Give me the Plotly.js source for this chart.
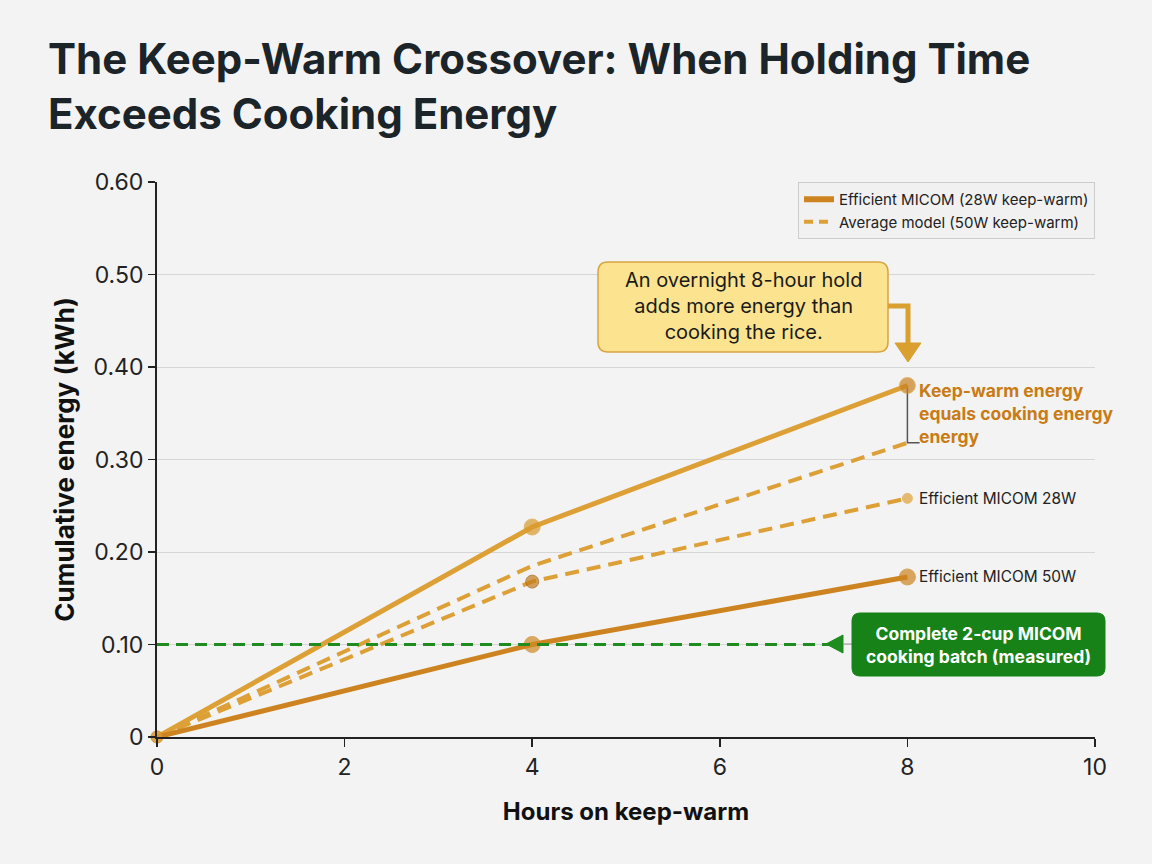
<!DOCTYPE html>
<html>
<head>
<meta charset="utf-8">
<script src="https://cdn.plot.ly/plotly-3.0.1.min.js"></script>
<style>
  html, body { margin: 0; padding: 0; background: #f3f3f3; }
  #chart { width: 1152px; height: 864px; }
</style>
</head>
<body>
<div id="chart"></div>
<script>
// ---- data ----
const hours = [0, 4, 8];
const holdTotalEfficient = [0, 0.227, 0.38];     // solid light orange
const holdAverageUpper = [0, 0.185, 0.318];      // dashed upper
const holdAverageLower = [0, 0.168, 0.258];      // dashed lower
const holdEfficientLow = [0, 0.10, 0.173];       // solid dark orange
const cookingBatchKWh = 0.10;
const cookingLineEnd = 7.28;
const xTicks = [0, 2, 4, 6, 8, 10];
const yTicks = [0, 0.1, 0.2, 0.3, 0.4, 0.5, 0.6];
const yTickText = ["0", "0.10", "0.20", "0.30", "0.40", "0.50", "0.60"];
const legendNames = ["Efficient MICOM (28W keep-warm)", "Average model (50W keep-warm)"];
const endLabels = ["Efficient MICOM 28W", "Efficient MICOM 50W"];

// ---- layout helpers ----
const L = 157, R = 1095, T = 182, B = 737;
const px = x => (x - L) / (R - L);
const py = y => (B - y) / (B - T);
function roundRect(x0, y0, x1, y1, r) {
  const rx = r / (R - L), ry = r / (B - T);
  const a = px(x0), b = px(x1), top = py(y0), bot = py(y1);
  return `M ${a + rx},${top} L ${b - rx},${top} Q ${b},${top} ${b},${top - ry} ` +
         `L ${b},${bot + ry} Q ${b},${bot} ${b - rx},${bot} L ${a + rx},${bot} ` +
         `Q ${a},${bot} ${a},${bot + ry} L ${a},${top - ry} Q ${a},${top} ${a + rx},${top} Z`;
}

const LIGHT = '#DDA037';
const DARK = '#CD8420';
const GREEN = '#1E8C1E';
const FONT = 'Inter, "Noto Sans", sans-serif';
const DASH = '14px,8px';

const traces = [
  { x: hours, y: holdAverageUpper, mode: 'lines', showlegend: false,
    line: { color: LIGHT, width: 4, dash: DASH }, cliponaxis: false },
  { x: hours, y: holdAverageLower, mode: 'lines+markers', showlegend: false,
    line: { color: LIGHT, width: 4, dash: DASH },
    marker: { size: [0, 13, 10], color: ['#C47A1A', '#C47A1A', '#E0A33A'],
              line: { color: ['#9a5e12', '#9a5e12', '#E0A33A'], width: 1 } }, cliponaxis: false },
  { x: hours, y: holdTotalEfficient, mode: 'lines+markers', showlegend: false,
    line: { color: LIGHT, width: 5 },
    marker: { size: [12, 16, 16], color: [LIGHT, '#D99A2E', '#C8801E'] }, cliponaxis: false },
  { x: hours, y: holdEfficientLow, mode: 'lines+markers', showlegend: false,
    line: { color: DARK, width: 5 },
    marker: { size: [12, 16, 16], color: ['#DDA037', '#D08A24', '#CD8420'] }, cliponaxis: false },
  { x: [hours[0], cookingLineEnd], y: [cookingBatchKWh, cookingBatchKWh], mode: 'lines', showlegend: false,
    line: { color: GREEN, width: 3, dash: '12px,7px' }, cliponaxis: false },
  { x: [null], y: [null], mode: 'lines', name: legendNames[0], showlegend: true,
    line: { color: DARK, width: 6 } },
  { x: [null], y: [null], mode: 'lines', name: legendNames[1], showlegend: true,
    line: { color: LIGHT, width: 4, dash: '9px,6px' } }
];

const shapes = [
  // callout box
  { type: 'path', xref: 'paper', yref: 'paper', path: roundRect(598, 262, 888, 352, 10),
    fillcolor: '#FBE38F', line: { color: '#D8A540', width: 1.5 }, layer: 'above' },
  // elbow connector
  { type: 'path', xref: 'paper', yref: 'paper',
    path: `M ${px(888)},${py(306)} L ${px(908)},${py(306)} L ${px(908)},${py(345)}`,
    line: { color: '#D9A030', width: 5 }, layer: 'above' },
  { type: 'path', xref: 'paper', yref: 'paper',
    path: `M ${px(895)},${py(343)} L ${px(921)},${py(343)} L ${px(908)},${py(362)} Z`,
    fillcolor: '#D9A030', line: { color: '#D9A030', width: 1 }, layer: 'above' },
  // bracket between endpoints
  { type: 'path', xref: 'x', yref: 'y',
    path: `M ${hours[2]},${holdTotalEfficient[2]} L ${hours[2]},${holdAverageUpper[2]} L ${hours[2] + 0.13},${holdAverageUpper[2]}`,
    line: { color: '#555555', width: 1.5 }, layer: 'below' },
  // green arrowhead + connector
  { type: 'path', xref: 'paper', yref: 'paper',
    path: `M ${px(826)},${py(644)} L ${px(843)},${py(635)} L ${px(843)},${py(653)} Z`,
    fillcolor: GREEN, line: { color: GREEN, width: 1 }, layer: 'above' },
  { type: 'line', xref: 'paper', yref: 'paper', x0: px(843), x1: px(852), y0: py(644), y1: py(644),
    line: { color: '#999999', width: 1 } },
  // green box
  { type: 'path', xref: 'paper', yref: 'paper', path: roundRect(852, 613, 1105, 676, 8),
    fillcolor: '#178217', line: { color: '#178217', width: 1 }, layer: 'above' }
];

const annotations = [
  { xref: 'paper', yref: 'paper', x: px(743), y: py(306), xanchor: 'center', yanchor: 'middle',
    text: 'An overnight 8-hour hold<br>adds more energy than<br>cooking the rice.', showarrow: false,
    font: { family: FONT, size: 20, color: '#1a1a1a' }, align: 'center' },
  { xref: 'x', yref: 'y', x: hours[2], y: 0.35, xanchor: 'left', yanchor: 'middle', xshift: 10,
    text: '<b>Keep-warm energy<br>equals cooking energy<br>energy</b>', showarrow: false, align: 'left',
    font: { family: FONT, size: 17.5, color: '#C97B14' } },
  { xref: 'x', yref: 'y', x: hours[2], y: holdAverageLower[2], xanchor: 'left', yanchor: 'middle', xshift: 10,
    text: endLabels[0], showarrow: false, font: { family: FONT, size: 15.4, color: '#222222' } },
  { xref: 'x', yref: 'y', x: hours[2], y: holdEfficientLow[2], xanchor: 'left', yanchor: 'middle', xshift: 10,
    text: endLabels[1], showarrow: false, font: { family: FONT, size: 15.4, color: '#222222' } },
  { xref: 'paper', yref: 'paper', x: px(978), y: py(645), xanchor: 'center', yanchor: 'middle',
    text: '<b>Complete 2-cup MICOM<br>cooking batch (measured)</b>', showarrow: false, align: 'center',
    font: { family: FONT, size: 17.5, color: '#ffffff' } }
];

const layout = {
  width: 1152, height: 864,
  paper_bgcolor: '#f3f3f3', plot_bgcolor: '#f3f3f3',
  margin: { l: L, r: 1152 - R, t: T, b: 864 - B },
  font: { family: FONT, color: '#1a1a1a' },
  title: {
    text: '<b>The Keep-Warm Crossover: When Holding Time<br>Exceeds Cooking Energy</b>',
    x: 48 / 1152, xanchor: 'left', xref: 'container',
    y: 1 - 74 / 864, yanchor: 'top', yref: 'container',
    font: { family: FONT, size: 42, color: '#1b2428' }
  },
  xaxis: {
    range: [0, 10], tickvals: xTicks, ticks: 'outside', ticklen: 8, tickwidth: 1.5, tickcolor: '#222',
    showline: true, linecolor: '#222', linewidth: 2, showgrid: false, zeroline: false,
    tickfont: { family: FONT, size: 23, color: '#222' },
    title: { text: '<b>Hours on keep-warm</b>', standoff: 24, font: { family: FONT, size: 24, color: '#111' } }
  },
  yaxis: {
    range: [0, 0.6], tickvals: yTicks, ticktext: yTickText, ticks: 'outside', ticklen: 7, tickwidth: 1.5,
    tickcolor: '#222', showline: true, linecolor: '#222', linewidth: 2,
    showgrid: true, gridcolor: '#d6d6d6', gridwidth: 1, zeroline: false,
    tickfont: { family: FONT, size: 23, color: '#222' },
    title: { text: '<b>Cumulative energy (kWh)</b>', standoff: 11, font: { family: FONT, size: 26, color: '#111' } }
  },
  legend: {
    x: 1, y: 1, xanchor: 'right', yanchor: 'top',
    bgcolor: '#f1f1f1', bordercolor: '#cccccc', borderwidth: 1,
    font: { family: FONT, size: 15, color: '#222' }, traceorder: 'normal'
  },
  shapes: shapes,
  annotations: annotations,
  showlegend: true
};

Plotly.newPlot('chart', traces, layout, { displayModeBar: false, staticPlot: true });
</script>
</body>
</html>
